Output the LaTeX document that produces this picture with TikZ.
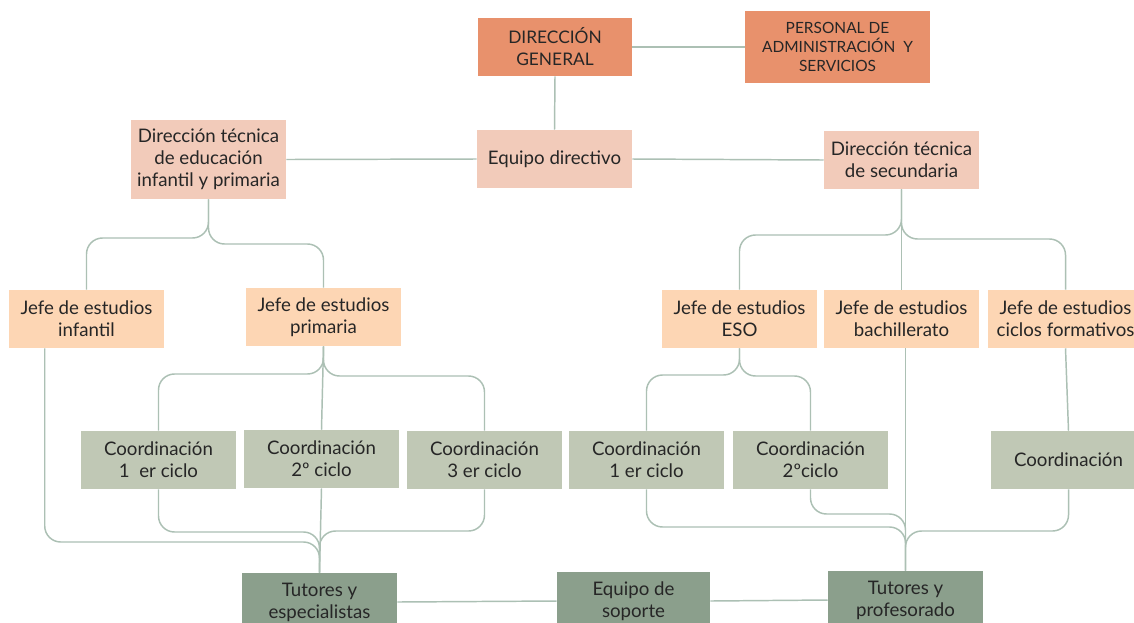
\documentclass[tikz,border=0pt]{standalone}
\usepackage{fontspec}
\setmainfont{Lato}
\usetikzlibrary{calc}
\definecolor{dgc}{RGB}{232,145,108}
\definecolor{pinkc}{RGB}{242,203,186}
\definecolor{peachc}{RGB}{253,214,180}
\definecolor{coordc}{RGB}{192,200,181}
\definecolor{tutc}{RGB}{139,159,140}
\definecolor{linec}{RGB}{172,192,180}
\definecolor{txtc}{RGB}{38,38,38}
\begin{document}
\begin{tikzpicture}[x=0.75pt,y=-0.75pt,
 box/.style={fill=#1, draw=none, align=center, inner sep=0pt, minimum width=116.25pt, minimum height=43.5pt, text=txtc, font=\fontsize{14}{16.5}\selectfont},
 conn/.style={draw=linec, line width=1.1pt, rounded corners=12pt}]
\clip (0,0) rectangle (1134,622);
\fill[white] (0,0) rectangle (1134,622);
% nodes
\node[box=dgc, minimum width=115.5pt, font=\fontsize{13}{16.5}\selectfont] (dg) at (555,47) {DIRECCIÓN\\GENERAL};
\node[box=dgc, minimum width=138.75pt, minimum height=54pt, font=\fontsize{11.6}{14.25}\selectfont] (pas) at (837.5,47) {PERSONAL DE\\ADMINISTRACIÓN\ \ Y\\SERVICIOS};
\node[box=pinkc] (ed) at (554.5,159) {Equipo directivo};
\node[box=pinkc, minimum height=59.25pt] (dti) at (208.5,159.5) {Dirección técnica\\de educación\\infantil y primaria};
\node[box=pinkc] (ds) at (901.5,160) {Dirección técnica\\de secundaria};
\node[box=peachc] (ji) at (86.5,319) {Jefe de estudios\\infantil};
\node[box=peachc] (jp) at (323.5,317) {Jefe de estudios\\primaria};
\node[box=peachc] (je) at (739.5,319) {Jefe de estudios\\ESO};
\node[box=peachc] (jb) at (901.5,319) {Jefe de estudios\\bachillerato};
\node[box=peachc] (jc) at (1065.5,319) {Jefe de estudios\\ciclos formativos};
\node[box=coordc] (c1) at (158.5,460) {Coordinación\\1\ \ er ciclo};
\node[box=coordc] (c2) at (321.5,459) {Coordinación\\2º ciclo};
\node[box=coordc] (c3) at (484.5,460) {Coordinación\\3 er ciclo};
\node[box=coordc] (ce1) at (646.5,460) {Coordinación\\1 er ciclo};
\node[box=coordc] (ce2) at (810.5,460) {Coordinación\\2ºciclo};
\node[box=coordc] (cr) at (1068.5,460) {Coordinación};
\node[box=tutc] (te) at (319.5,602) {Tutores y\\especialistas};
\node[box=tutc, minimum width=114.75pt] (es) at (633.5,601) {Equipo de\\soporte};
\node[box=tutc] (tp) at (905.5,600) {Tutores y\\profesorado};
% connectors
\draw[conn] (dg.south) -- (ed.north);
\draw[conn] (dg.east) -- (pas.west);
\draw[conn] (ed.west) -- (dti.east);
\draw[conn] (ed.east) -- (ds.west);
\draw[conn] (dti.south) -- (dti.south |- 0,238) -| (ji.north);
\draw[conn] (dti.south) -- (dti.south |- 0,244) -| (jp.north);
\draw[conn] (ds.south) -- (jb.north);
\draw[conn] (ds.south) -- (ds.south |- 0,235) -| (je.north);
\draw[conn] (ds.south) -- (ds.south |- 0,239) -| (jc.north);
\draw[conn] (jp.south) -- (c2.north);
\draw[conn] (jp.south) -- (jp.south |- 0,374) -| (c1.north);
\draw[conn] (jp.south) -- (jp.south |- 0,376) -| (c3.north);
\draw[conn] (je.south) -- (je.south |- 0,375) -| (ce1.north);
\draw[conn] (je.south) -- (je.south |- 0,376) -| (ce2.north);
\draw[conn] (jc.south) -- (cr.north);
\draw[conn] (c2.south) -- (te.north);
\draw[conn] (c1.south) -- (c1.south |- 0,532) -| (te.north);
\draw[conn] (c3.south) -- (c3.south |- 0,531) -| (te.north);
\coordinate (jiout) at ($(ji.south west)+(36,0)$);
\draw[conn] (jiout) -- (jiout |- 0,542) -| (te.north);
\draw[conn] (jb.south -| tp.north) -- (tp.north);
\draw[conn] (ce1.south) -- (ce1.south |- 0,527) -| (tp.north);
\draw[conn] (ce2.south) -- (ce2.south |- 0,514) -| (tp.north);
\draw[conn] (cr.south) -- (cr.south |- 0,531) -| (tp.north);
\draw[conn] (te.east) -- (es.west);
\draw[conn] (es.east) -- (tp.west);
\end{tikzpicture}
\end{document}
